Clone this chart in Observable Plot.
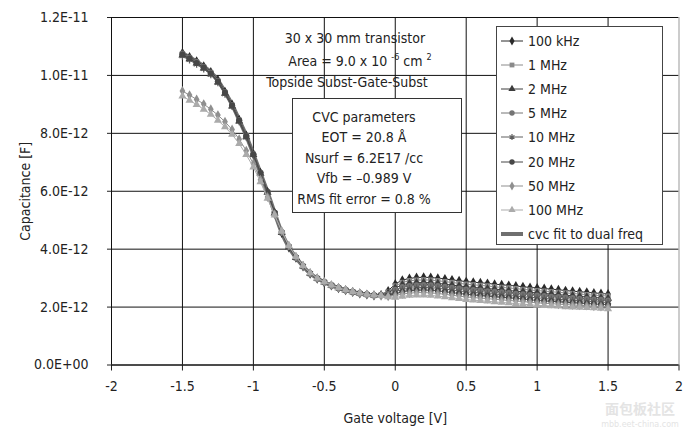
<!DOCTYPE html>
<html><head><meta charset="utf-8">
<script src="https://cdn.jsdelivr.net/npm/d3@7"></script>
<script src="https://cdn.jsdelivr.net/npm/@observablehq/plot@0.6"></script>
<style>
body{margin:0;background:#fff;}
#wrap{position:relative;width:695px;height:430px;overflow:hidden;font-family:"Liberation Sans Narrow","DejaVu Sans Condensed","Roboto",sans-serif;color:#222;}
#chart{position:absolute;left:0;top:0;}
.t{position:absolute;transform:translate(-50%,-50%);white-space:nowrap;font-size:14px;line-height:16px;}
.box{position:absolute;background:#fff;border:1px solid #333;box-sizing:border-box;}
.leg{position:absolute;display:flex;align-items:center;font-size:14px;white-space:nowrap;}
.leg svg{margin-right:4px;}
sup{font-size:9px;vertical-align:6px;line-height:0;}
.wm{position:absolute;color:#e4e4e4;white-space:nowrap;}
</style></head><body><div id="wrap"><div id="chart"></div></div>
<script>
// ---------- data (capacitance in units of 1E-12 F) ----------
const voltages = [-1.50,-1.45,-1.40,-1.35,-1.30,-1.25,-1.20,-1.15,-1.10,-1.05,-1.00,-0.95,-0.90,-0.85,-0.80,-0.75,-0.70,-0.65,-0.60,-0.55,-0.50,-0.45,-0.40,-0.35,-0.30,-0.25,-0.20,-0.15,-0.10,-0.05,0.00,0.05,0.10,0.15,0.20,0.25,0.30,0.35,0.40,0.45,0.50,0.55,0.60,0.65,0.70,0.75,0.80,0.85,0.90,0.95,1.00,1.05,1.10,1.15,1.20,1.25,1.30,1.35,1.40,1.45,1.50];

const seriesNames = ["100 kHz","1 MHz","2 MHz","5 MHz","10 MHz","20 MHz","50 MHz","100 MHz"];

const c100kHz = [10.78,10.64,10.49,10.32,10.12,9.84,9.44,9.00,8.47,7.93,7.29,6.64,5.98,5.25,4.56,4.06,3.70,3.40,3.15,2.98,2.85,2.74,2.65,2.58,2.52,2.47,2.43,2.40,
  2.42,2.56,2.80,2.93,2.99,3.02,3.03,3.02,3.00,2.97,2.94,2.91,2.88,2.86,2.84,2.82,2.79,2.77,2.75,2.73,2.70,2.68,2.66,2.64,2.62,2.60,2.57,2.55,2.53,2.51,2.49,2.47,2.45];
const c1MHz = [10.74,10.60,10.45,10.28,10.08,9.80,9.41,8.97,8.45,7.91,7.28,6.63,5.97,5.25,4.57,4.07,3.70,3.40,3.15,2.98,2.85,2.74,2.65,2.58,2.52,2.47,2.43,2.40,
  2.42,2.52,2.73,2.85,2.91,2.93,2.94,2.93,2.91,2.88,2.85,2.82,2.79,2.77,2.75,2.73,2.70,2.68,2.66,2.64,2.61,2.59,2.57,2.55,2.53,2.51,2.49,2.47,2.45,2.43,2.41,2.40,2.38];
const c2MHz = [10.70,10.57,10.42,10.25,10.05,9.77,9.38,8.94,8.42,7.88,7.26,6.62,5.96,5.24,4.57,4.07,3.71,3.41,3.16,2.99,2.86,2.75,2.66,2.58,2.52,2.47,2.43,2.40,
  2.41,2.48,2.66,2.77,2.82,2.84,2.85,2.84,2.82,2.79,2.76,2.73,2.70,2.68,2.66,2.64,2.62,2.60,2.57,2.55,2.53,2.51,2.49,2.47,2.45,2.43,2.41,2.39,2.37,2.35,2.33,2.32,2.30];
const c5MHz = [10.76,10.62,10.47,10.30,10.10,9.82,9.42,8.98,8.46,7.92,7.28,6.63,5.97,5.26,4.58,4.08,3.71,3.41,3.16,2.99,2.86,2.75,2.66,2.59,2.53,2.48,2.44,2.41,
  2.41,2.45,2.60,2.69,2.73,2.75,2.76,2.75,2.73,2.70,2.67,2.64,2.61,2.59,2.57,2.55,2.53,2.51,2.49,2.46,2.44,2.42,2.40,2.38,2.36,2.35,2.33,2.31,2.29,2.28,2.26,2.25,2.23];
const c10MHz = [10.66,10.53,10.38,10.22,10.02,9.74,9.35,8.92,8.40,7.86,7.24,6.60,5.95,5.24,4.57,4.08,3.72,3.42,3.17,3.00,2.87,2.76,2.67,2.59,2.53,2.48,2.44,2.41,
  2.40,2.42,2.53,2.61,2.65,2.67,2.68,2.67,2.65,2.62,2.59,2.56,2.53,2.51,2.49,2.47,2.45,2.43,2.40,2.38,2.36,2.34,2.32,2.30,2.28,2.27,2.25,2.23,2.22,2.20,2.19,2.17,2.16];
const c20MHz = [10.72,10.58,10.43,10.27,10.07,9.79,9.40,8.96,8.44,7.90,7.27,6.63,5.97,5.26,4.58,4.09,3.72,3.42,3.17,3.00,2.87,2.76,2.67,2.59,2.53,2.48,2.44,2.41,
  2.40,2.40,2.46,2.53,2.57,2.58,2.59,2.58,2.56,2.53,2.50,2.47,2.44,2.42,2.40,2.38,2.36,2.34,2.32,2.30,2.28,2.25,2.23,2.21,2.20,2.18,2.17,2.15,2.14,2.12,2.11,2.09,2.08];
const c50MHz = [9.46,9.32,9.17,9.01,8.83,8.63,8.40,8.13,7.80,7.40,6.95,6.40,5.80,5.20,4.62,4.12,3.74,3.43,3.18,3.00,2.87,2.76,2.67,2.59,2.53,2.48,2.44,2.41,
  2.39,2.37,2.40,2.45,2.48,2.50,2.50,2.49,2.47,2.44,2.41,2.38,2.35,2.33,2.31,2.29,2.27,2.25,2.23,2.21,2.19,2.17,2.15,2.13,2.12,2.10,2.09,2.07,2.06,2.05,2.03,2.02,2.01];
const c100MHz = [9.28,9.14,8.99,8.83,8.65,8.45,8.22,7.96,7.64,7.26,6.83,6.32,5.75,5.17,4.61,4.12,3.74,3.43,3.18,3.00,2.87,2.76,2.67,2.59,2.53,2.48,2.44,2.41,
  2.39,2.35,2.33,2.37,2.40,2.41,2.41,2.40,2.38,2.35,2.32,2.29,2.26,2.24,2.22,2.20,2.18,2.16,2.14,2.12,2.10,2.08,2.06,2.05,2.04,2.03,2.01,2.00,1.99,1.98,1.97,1.95,1.94];

const fitVoltages = [-1.50,-1.45,-1.40,-1.35,-1.30,-1.25,-1.20,-1.15,-1.10,-1.05,-1.00,-0.95,-0.90,-0.85,-0.80,-0.75,-0.70,-0.65,-0.60,-0.55,-0.50,-0.45,-0.40,-0.35,-0.30,-0.25,-0.20,-0.15,-0.10];
const fitValues = [10.77,10.63,10.48,10.31,10.11,9.83,9.43,8.99,8.46,7.92,7.28,6.63,5.97,5.25,4.57,4.07,3.71,3.41,3.16,2.99,2.86,2.75,2.66,2.58,2.52,2.47,2.43,2.40,2.39];
const fitName = "cvc fit to dual freq";

const xTicks = [-2,-1.5,-1,-0.5,0,0.5,1,1.5,2];
const xTickLabels = ["-2","-1.5","-1","-0.5","0","0.5","1","1.5","2"];
const yTicks = [0,2,4,6,8,10,12];
const yTickLabels = ["0.0E+00","2.0E-12","4.0E-12","6.0E-12","8.0E-12","1.0E-11","1.2E-11"];

const seriesValues = [c100kHz,c1MHz,c2MHz,c5MHz,c10MHz,c20MHz,c50MHz,c100MHz];
const seriesColors = ["#2a2a2a","#8a8a8a","#3c3c3c","#747474","#5e5e5e","#474747","#8f8f8f","#ababab"];
const seriesSymbols = ["diamond","square","triangle","circle","asterisk","circle","diamond","triangle"];
const fitColor = "#6f6f6f";

// ---------- chart ----------
const W = 695, H = 430;
const marks = [];
marks.push(Plot.ruleY(yTicks, {stroke:"#111", strokeWidth:1}));
marks.push(Plot.ruleX(xTicks.slice(1, -1), {stroke:"#111", strokeWidth:1}));
marks.push(Plot.ruleX(xTicks.slice(-1), {stroke:"#999", strokeWidth:1}));
const fitRows = fitVoltages.map((v,i)=>({v, c: fitValues[i]}));
marks.push(Plot.line(fitRows, {x:"v", y:"c", stroke:fitColor, strokeWidth:4, curve:"monotone-x"}));
seriesNames.forEach((name, k) => {
  const rows = voltages.map((v,i)=>({v, c: seriesValues[k][i]}));
  marks.push(Plot.line(rows, {x:"v", y:"c", stroke:seriesColors[k], strokeWidth:1}));
  const sym = seriesSymbols[k];
  if (sym === "asterisk") {
    marks.push(Plot.dot(rows, {x:"v", y:"c", symbol:sym, r:3.2, stroke:seriesColors[k], strokeWidth:1.3}));
  } else {
    marks.push(Plot.dot(rows, {x:"v", y:"c", symbol:sym, r:3, fill:seriesColors[k], stroke:"none"}));
  }
});
marks.push(Plot.axisY({ticks:yTicks, tickFormat:(d)=>yTickLabels[yTicks.indexOf(d)], tickSize:4, tickPadding:19,
  label:"Capacitance [F]", labelAnchor:"center", labelArrow:"none", labelOffset:91, fontSize:14}));
marks.push(Plot.axisX({ticks:xTicks, tickFormat:(d)=>xTickLabels[xTicks.indexOf(d)], tickSize:6, tickPadding:10,
  label:"Gate voltage [V]", labelAnchor:"center", labelArrow:"none", labelOffset:58, fontSize:14}));
marks.push(Plot.ruleX([-2], {stroke:"#111", strokeWidth:1}));
marks.push(Plot.ruleY([0], {stroke:"#111", strokeWidth:1}));

const chart = Plot.plot({
  width: W, height: H,
  marginLeft: 111, marginRight: 16.5, marginTop: 17, marginBottom: 65.5,
  x: {domain:[-2,2]},
  y: {domain:[0,12]},
  style: {fontFamily:'"Liberation Sans Narrow","DejaVu Sans Condensed",sans-serif', fontSize:"14px", color:"#222", background:"#fff", overflow:"visible"},
  marks
});
document.getElementById("chart").appendChild(chart);

// ---------- annotations ----------
const wrap = document.getElementById("wrap");
function addText(html, cx, cy, cls="t", extra="") {
  const d = document.createElement("div");
  d.className = cls; d.innerHTML = html;
  d.style.left = cx + "px"; d.style.top = cy + "px";
  if (extra) d.style.cssText += extra;
  wrap.appendChild(d);
  return d;
}
addText("30 x 30 mm transistor", 355, 38);
addText("Area = 9.0 x 10 <sup>-6</sup> cm <sup>2</sup>", 360, 61);
addText("Topside Subst-Gate-Subst", 347, 82);

const box = document.createElement("div");
box.className = "box";
Object.assign(box.style, {left:"292px", top:"98px", width:"170px", height:"115px"});
wrap.appendChild(box);
const cvcLines = ["CVC parameters","EOT = 20.8 Å","Nsurf = 6.2E17 /cc","Vfb = –0.989 V","RMS fit error = 0.8 %"];
cvcLines.forEach((s,i)=> addText(s, 364, 117 + i*20.4));

// ---------- legend ----------
const leg = document.createElement("div");
leg.className = "box";
Object.assign(leg.style, {left:"496px", top:"26px", width:"167px", height:"219px", borderColor:"#444"});
wrap.appendChild(leg);
const d3sym = {diamond:d3.symbolDiamond, square:d3.symbolSquare, triangle:d3.symbolTriangle, circle:d3.symbolCircle, asterisk:d3.symbolAsterisk};
const legendItems = seriesNames.map((n,k)=>({name:n, color:seriesColors[k], symbol:seriesSymbols[k]}));
legendItems.push({name:fitName, color:fitColor, symbol:null});
legendItems.forEach((it, i) => {
  const row = document.createElement("div");
  row.className = "leg";
  row.style.left = "500px";
  row.style.top = (33 + i*24.1) + "px";
  row.style.height = "16px";
  const svg = d3.create("svg").attr("width", 24).attr("height", 16);
  if (it.symbol) {
    svg.append("line").attr("x1",1).attr("x2",23).attr("y1",8).attr("y2",8).attr("stroke",it.color).attr("stroke-width",1);
    const p = d3.symbol(d3sym[it.symbol], Math.PI*2.7*2.7)();
    const g = svg.append("path").attr("d", p).attr("transform","translate(12,8)");
    if (it.symbol === "asterisk") g.attr("fill","none").attr("stroke",it.color).attr("stroke-width",1.2);
    else g.attr("fill", it.color);
  } else {
    svg.append("line").attr("x1",1).attr("x2",23).attr("y1",8).attr("y2",8).attr("stroke",it.color).attr("stroke-width",4);
  }
  row.appendChild(svg.node());
  const sp = document.createElement("span");
  sp.textContent = it.name;
  row.appendChild(sp);
  wrap.appendChild(row);
});

// ---------- watermark ----------
addText("面包板社区", 640, 408, "wm", 'transform:translate(-50%,-50%);font-family:"Noto Sans CJK SC",sans-serif;font-size:14px;line-height:14px;font-weight:bold;');
addText("mbb.eet-china.com", 640, 425, "wm", 'transform:translate(-50%,-50%);font-family:"DejaVu Sans",sans-serif;font-size:8px;line-height:8px;');
</script></body></html>
